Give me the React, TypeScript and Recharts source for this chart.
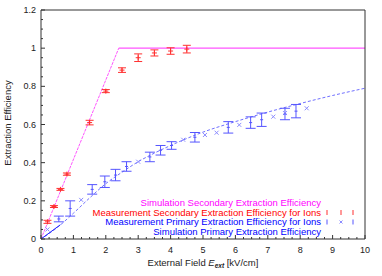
import { ComposedChart, Line, Scatter, ErrorBar, XAxis, YAxis } from 'recharts'

// simulation, secondary extraction (magenta)
const simSecRiseField = [0, 2.4]
const simSecRiseEff = [0, 1.0]
const simSecFlatField = [2.4, 10]
const simSecFlatEff = [1.0, 1.0]

// simulation, primary extraction (blue dashed)
const simPriField = [0, 0.5, 1, 1.5, 2, 2.5, 3, 3.5, 4, 5, 6, 7, 8, 9, 10]
const simPriEff = [0, 0.06, 0.135, 0.215, 0.29, 0.35, 0.405, 0.45, 0.49, 0.56, 0.615, 0.665, 0.71, 0.752, 0.79]
const simPriStartField = [0, 0.6]
const simPriStartEff = [0, 0.075]

// measurement, secondary extraction (red)
const measSecField = [0.2, 0.4, 0.6, 0.8, 1.5, 2.0, 2.5, 3.0, 3.5, 4.0, 4.5]
const measSecEff = [0.09, 0.17, 0.26, 0.34, 0.61, 0.775, 0.885, 0.95, 0.975, 0.985, 0.995]
const measSecErr = [0.008, 0.005, 0.005, 0.006, 0.012, 0.008, 0.012, 0.02, 0.016, 0.017, 0.02]

// measurement, primary extraction (blue bars)
const measPriField = [0.55, 0.9, 1.58, 1.97, 2.3, 2.64, 3.36, 3.69, 4.03, 4.75, 5.78, 6.47, 6.81, 7.53, 7.87]
const measPriEff = [0.105, 0.16, 0.26, 0.3, 0.335, 0.38, 0.43, 0.465, 0.49, 0.533, 0.585, 0.61, 0.625, 0.655, 0.67]
const measPriErr = [0.015, 0.04, 0.025, 0.03, 0.03, 0.025, 0.025, 0.025, 0.02, 0.025, 0.03, 0.03, 0.035, 0.03, 0.035]

// measurement, primary extraction (light blue crosses)
const measPriXField = [0.2, 1.24, 3.0, 4.39, 5.06, 5.42, 6.12, 7.17, 7.53, 8.2]
const measPriXEff = [0.05, 0.205, 0.405, 0.52, 0.545, 0.557, 0.598, 0.641, 0.66, 0.685]

const xMajor = [0, 1, 2, 3, 4, 5, 6, 7, 8, 9, 10]
const yMajor = [0, 0.2, 0.4, 0.6, 0.8, 1, 1.2]
const xTicks = Array.from({ length: 41 }, (_, i) => i / 4)
const yTicks = Array.from({ length: 25 }, (_, i) => Math.round(i * 5) / 100)

const legendRows = [
  { text: 'Simulation Secondary Extraction Efficiency', color: '#ff00ff' },
  { text: 'Measurement Secondary Extraction Efficiency for Ions', color: '#ff0000' },
  { text: 'Measurement Primary Extraction Efficiency for Ions', color: '#0000ff' },
  { text: 'Simulation Primary Extraction Efficiency', color: '#0000ff' },
]

const pts = (xs: number[], ys: number[], err?: number[]) =>
  xs.map((x, i) => ({ x, y: ys[i], err: err ? err[i] : 0 }))

const FONT = '"Liberation Sans", Arial, Helvetica, sans-serif'
const AXIS = '#333'

const isMajor = (v: number, majors: number[]) => majors.some(m => Math.abs(m - v) < 1e-6)

function XTick({ x, y, payload, top }: any) {
  const v = payload.value
  const major = isMajor(v, xMajor)
  const len = major ? 4 : 2
  return (
    <g>
      <line x1={x} x2={x} y1={y} y2={top ? y + len : y - len} stroke={AXIS} strokeWidth={1} />
      {!top && major && (
        <text x={x} y={y + 14} textAnchor="middle" fontSize={9} fontFamily={FONT} fill="#222">{v}</text>
      )}
    </g>
  )
}

function YTick({ x, y, payload, right }: any) {
  const v = payload.value
  const major = isMajor(v, yMajor)
  const len = major ? 4 : 2
  return (
    <g>
      <line x1={x} x2={right ? x - len : x + len} y1={y} y2={y} stroke={AXIS} strokeWidth={1} />
      {!right && major && (
        <text x={x - 5} y={y + 3} textAnchor="end" fontSize={9} fontFamily={FONT} fill="#222">{+v.toFixed(1)}</text>
      )}
    </g>
  )
}

const plus = (color: string, s: number) => (p: any) => (
  <path d={`M${p.cx - s},${p.cy}h${2 * s}M${p.cx},${p.cy - s}v${2 * s}`} stroke={color} strokeWidth={1} fill="none" />
)
const dash = (color: string) => (p: any) => (
  <path d={`M${p.cx - 1.5},${p.cy}h3`} stroke={color} strokeWidth={1} fill="none" />
)
const cross = (color: string) => (p: any) => (
  <path d={`M${p.cx - 2},${p.cy - 2}l4,4M${p.cx - 2},${p.cy + 2}l4,-4`} stroke={color} strokeWidth={1} fill="none" />
)

export default function App() {
  const W = 382
  const H = 276
  return (
    <div style={{ position: 'absolute', left: 0, top: 0, width: W, height: H, background: '#fff' }}>
      <ComposedChart width={W} height={H} margin={{ top: 9, right: 16, bottom: 36, left: 40 }}>
        <XAxis xAxisId="b" type="number" dataKey="x" domain={[0, 10]} ticks={xTicks} interval={0}
          height={1} tickSize={0} tickMargin={0} axisLine={{ stroke: AXIS }} tick={<XTick />} allowDataOverflow />
        <XAxis xAxisId="t" orientation="top" type="number" dataKey="x" domain={[0, 10]} ticks={xTicks} interval={0}
          height={1} tickSize={0} tickMargin={0} axisLine={{ stroke: AXIS }} tick={<XTick top />} />
        <YAxis yAxisId="l" type="number" domain={[0, 1.2]} ticks={yTicks} interval={0}
          width={1} tickSize={0} tickMargin={0} axisLine={{ stroke: AXIS }} tick={<YTick />} />
        <YAxis yAxisId="r" orientation="right" type="number" domain={[0, 1.2]} ticks={yTicks} interval={0}
          width={1} tickSize={0} tickMargin={0} axisLine={{ stroke: AXIS }} tick={<YTick right />} />

        <Line xAxisId="b" yAxisId="l" data={pts(simSecRiseField, simSecRiseEff)} dataKey="y" stroke="#ff55ff"
          strokeWidth={1} strokeDasharray="3 1" dot={false} isAnimationActive={false} />
        <Line xAxisId="b" yAxisId="l" data={pts(simSecFlatField, simSecFlatEff)} dataKey="y" stroke="#ff55ff"
          strokeWidth={1.2} dot={false} isAnimationActive={false} />
        <Line xAxisId="b" yAxisId="l" data={pts(simPriField, simPriEff)} dataKey="y" type="monotone" stroke="#7070ff"
          strokeWidth={1} strokeDasharray="3 2" dot={false} isAnimationActive={false} />
        <Line xAxisId="b" yAxisId="l" data={pts(simPriStartField, simPriStartEff)} dataKey="y" stroke="#2020ff"
          strokeWidth={1} dot={false} isAnimationActive={false} />

        <Scatter xAxisId="b" yAxisId="l" data={pts(measPriXField, measPriXEff)} dataKey="y"
          shape={cross('#8c8cff')} isAnimationActive={false} />
        <Scatter xAxisId="b" yAxisId="l" data={pts(measPriField, measPriEff, measPriErr)} dataKey="y"
          shape={dash('#5555ff')} isAnimationActive={false}>
          <ErrorBar dataKey="err" direction="y" width={5} stroke="#5555ff" strokeWidth={1} isAnimationActive={false} />
        </Scatter>
        <Scatter xAxisId="b" yAxisId="l" data={pts(measSecField, measSecEff, measSecErr)} dataKey="y"
          shape={plus('#ff3030', 2.5)} isAnimationActive={false}>
          <ErrorBar dataKey="err" direction="y" width={4} stroke="#ff3030" strokeWidth={1} isAnimationActive={false} />
        </Scatter>
      </ComposedChart>

      <svg width={W} height={H} style={{ position: 'absolute', left: 0, top: 0, pointerEvents: 'none' }}>
        <text transform="translate(11,123) rotate(-90)" textAnchor="middle" fontSize={9.5} fontFamily={FONT} fill="#222">
          Extraction Efficiency
        </text>
        <text x={203} y={266} textAnchor="middle" fontSize={9.5} fontFamily={FONT} fill="#222">
          External Field <tspan fontStyle="italic">E</tspan>
          <tspan fontStyle="italic" fontWeight="bold" fontSize={6.5} dy={2}>ext</tspan>
          <tspan dy={-2}> [kV/cm]</tspan>
        </text>
        {legendRows.map((r, i) => (
          <text key={r.text} x={321} y={206 + i * 9.7} textAnchor="end" fontSize={9.5} fontFamily={FONT} fill={r.color}>
            {r.text}
          </text>
        ))}
        {[327, 341, 353].map(x => (
          <path key={'r' + x} d={`M${x},210v5`} stroke="#ff3030" strokeWidth={1} />
        ))}
        <path d="M327,219.5v5M353,219.5v5" stroke="#5555ff" strokeWidth={1} />
        <path d="M339.5,220.5l3,3M339.5,223.5l3,-3" stroke="#8c8cff" strokeWidth={1} />
      </svg>
    </div>
  )
}
